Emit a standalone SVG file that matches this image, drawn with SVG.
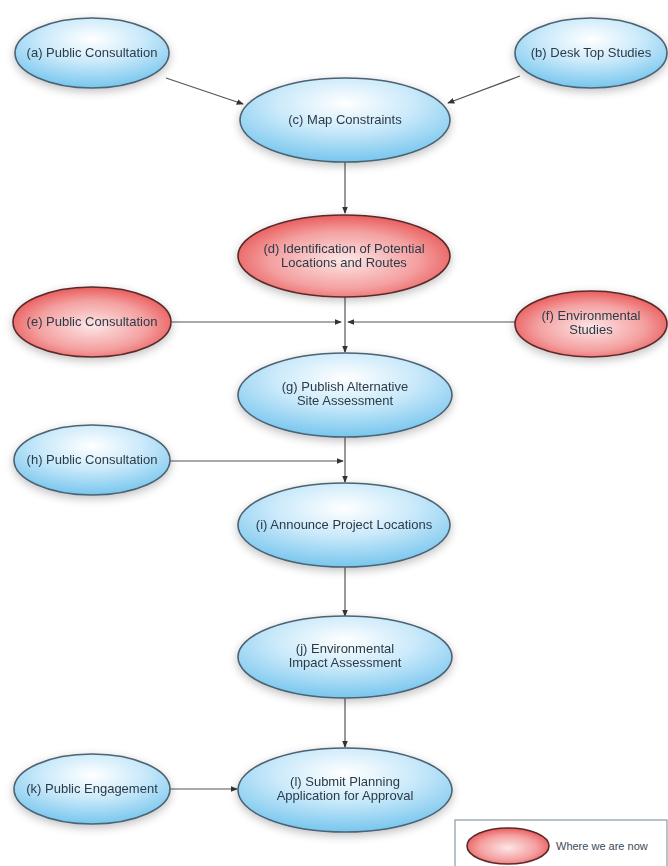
<svg xmlns="http://www.w3.org/2000/svg" width="668" height="866" viewBox="0 0 668 866">
<style>
.lbl{font-family:"Liberation Sans",Arial,sans-serif;font-size:13px;fill:#2b3a48;text-anchor:middle}
.blue{fill:url(#gBlue);stroke:#4d6272;stroke-width:1.6}
.red{fill:url(#gRed);stroke:#5a2a2a;stroke-width:1.6}
.conn{stroke:#555;stroke-width:1.2;fill:none}
</style>
<defs>
<radialGradient id="gBlue" cx="0.5" cy="0.3" r="0.75">
<stop offset="0" stop-color="#ffffff"/>
<stop offset="0.45" stop-color="#c9e9fa"/>
<stop offset="1" stop-color="#6cc1ec"/>
</radialGradient>
<radialGradient id="gRed" cx="0.5" cy="0.55" r="0.7">
<stop offset="0" stop-color="#fde6e6"/>
<stop offset="0.5" stop-color="#f4a0a0"/>
<stop offset="1" stop-color="#e22a2a"/>
</radialGradient>
<filter id="sh" x="-20%" y="-30%" width="140%" height="160%">
<feGaussianBlur in="SourceAlpha" stdDeviation="5"/>
<feOffset dx="0" dy="3" result="b"/>
<feComponentTransfer><feFuncA type="linear" slope="0.25"/></feComponentTransfer>
<feMerge><feMergeNode/><feMergeNode in="SourceGraphic"/></feMerge>
</filter>
<marker id="arr" viewBox="0 0 8 8" refX="7" refY="4" markerWidth="6" markerHeight="6" orient="auto">
<path d="M0,0.8 L8,4 L0,7.2 z" fill="#333"/>
</marker>
</defs>
<rect width="668" height="866" fill="#ffffff"/>

<g id="connectors">
<line class="conn" x1="166" y1="78" x2="243" y2="104" marker-end="url(#arr)"/>
<line class="conn" x1="520" y1="76" x2="448" y2="103" marker-end="url(#arr)"/>
<line class="conn" x1="345" y1="162" x2="345" y2="213" marker-end="url(#arr)"/>
<line class="conn" x1="172" y1="322" x2="341" y2="322" marker-end="url(#arr)"/>
<line class="conn" x1="516" y1="322" x2="348" y2="322" marker-end="url(#arr)"/>
<line class="conn" x1="345" y1="297" x2="345" y2="352" marker-end="url(#arr)"/>
<line class="conn" x1="170" y1="461" x2="343" y2="461" marker-end="url(#arr)"/>
<line class="conn" x1="345" y1="437" x2="345" y2="482" marker-end="url(#arr)"/>
<line class="conn" x1="345" y1="567" x2="345" y2="616" marker-end="url(#arr)"/>
<line class="conn" x1="345" y1="698" x2="345" y2="747" marker-end="url(#arr)"/>
<line class="conn" x1="170" y1="789" x2="237" y2="789" marker-end="url(#arr)"/>
</g>

<g id="a" filter="url(#sh)">
<ellipse class="blue" cx="92" cy="53" rx="77" ry="35"/>
<text class="lbl" x="92" y="57">(a) Public Consultation</text>
</g>
<g id="b" filter="url(#sh)">
<ellipse class="blue" cx="591" cy="53" rx="76" ry="35"/>
<text class="lbl" x="591" y="57">(b) Desk Top Studies</text>
</g>
<g id="c" filter="url(#sh)">
<ellipse class="blue" cx="345" cy="120" rx="105" ry="42"/>
<text class="lbl" x="345" y="124">(c) Map Constraints</text>
</g>
<g id="d" filter="url(#sh)">
<ellipse class="red" cx="344" cy="256" rx="106" ry="41"/>
<text class="lbl" x="344" y="253">(d) Identification of Potential</text>
<text class="lbl" x="344" y="267">Locations and Routes</text>
</g>
<g id="e" filter="url(#sh)">
<ellipse class="red" cx="92" cy="322" rx="79" ry="35"/>
<text class="lbl" x="92" y="326">(e) Public Consultation</text>
</g>
<g id="f" filter="url(#sh)">
<ellipse class="red" cx="591" cy="324" rx="76" ry="33"/>
<text class="lbl" x="591" y="320">(f) Environmental</text>
<text class="lbl" x="591" y="334">Studies</text>
</g>
<g id="g" filter="url(#sh)">
<ellipse class="blue" cx="345" cy="395" rx="107" ry="42"/>
<text class="lbl" x="345" y="391">(g) Publish Alternative</text>
<text class="lbl" x="345" y="405">Site Assessment</text>
</g>
<g id="h" filter="url(#sh)">
<ellipse class="blue" cx="92" cy="460" rx="78" ry="35"/>
<text class="lbl" x="92" y="464">(h) Public Consultation</text>
</g>
<g id="i" filter="url(#sh)">
<ellipse class="blue" cx="344" cy="525" rx="106" ry="42"/>
<text class="lbl" x="344" y="529">(i) Announce Project Locations</text>
</g>
<g id="j" filter="url(#sh)">
<ellipse class="blue" cx="345" cy="657" rx="107" ry="41"/>
<text class="lbl" x="345" y="653">(j) Environmental</text>
<text class="lbl" x="345" y="667">Impact Assessment</text>
</g>
<g id="k" filter="url(#sh)">
<ellipse class="blue" cx="92" cy="789" rx="78" ry="35"/>
<text class="lbl" x="92" y="793">(k) Public Engagement</text>
</g>
<g id="l" filter="url(#sh)">
<ellipse class="blue" cx="345" cy="790" rx="107" ry="42"/>
<text class="lbl" x="345" y="786">(l) Submit Planning</text>
<text class="lbl" x="345" y="800">Application for Approval</text>
</g>

<g id="legend">
<rect x="455" y="820" width="212" height="50" fill="#ffffff" stroke="#8a9aa6" stroke-width="1.2"/>
<ellipse class="red" cx="508" cy="846" rx="41" ry="18"/>
<text x="556" y="850" style="font-family:'Liberation Sans',Arial,sans-serif;font-size:11px;fill:#3a4a58">Where we are now</text>
</g>
</svg>
